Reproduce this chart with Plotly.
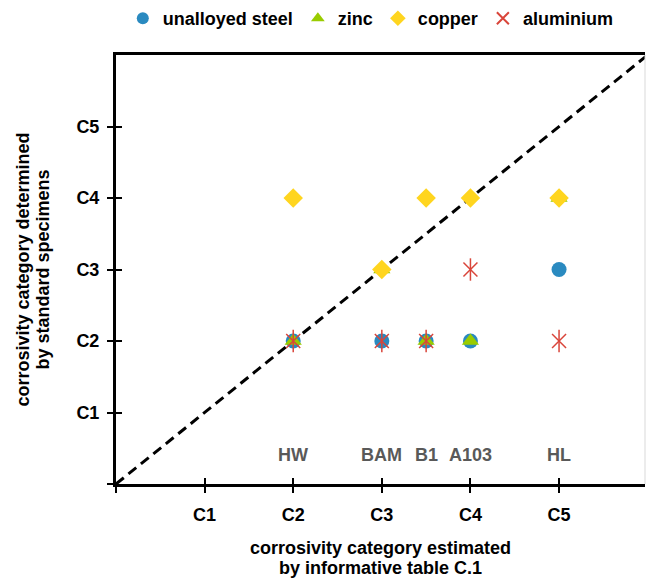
import plotly.graph_objects as go

sites = ["HW", "BAM", "B1", "A103", "HL"]
site_x = [2, 3, 3.5, 4, 5]  # estimated category position
cat_labels = ["", "C1", "C2", "C3", "C4", "C5"]
cat_vals = [0, 1, 2, 3, 4, 5]

steel = [2, 2, 2, 2, 3]
zinc = [2, 3, 2, 2, 4]
copper = [4, 3, 4, 4, 4]
aluminium = [2, 2, 2, 3, 2]

diag = [0, 6]

FONT = "Liberation Sans, Arial, sans-serif"
FS = 18
fig = go.Figure()

fig.add_trace(go.Scatter(x=diag, y=diag, mode="lines", showlegend=False,
                         line=dict(color="black", width=3, dash="10px,6px"), hoverinfo="skip"))
fig.add_trace(go.Scatter(x=site_x, y=steel, mode="markers", name="<b>unalloyed steel</b>",
                         marker=dict(symbol="circle", size=15, color="#2A8AC0")))
fig.add_trace(go.Scatter(x=site_x, y=zinc, mode="markers", name="<b>zinc</b>",
                         marker=dict(symbol="triangle-up", size=15, color="#99CC00")))
fig.add_trace(go.Scatter(x=site_x, y=copper, mode="markers", name="<b>copper</b>",
                         marker=dict(symbol="diamond", size=15, color="#FFD51F")))
fig.add_trace(go.Scatter(x=site_x, y=aluminium, mode="markers", name="<b>aluminium</b>", legendgroup="al",
                         marker=dict(symbol="x-thin-open", size=14, color="#D9453A",
                                     line=dict(width=1.5, color="#D9453A"))))
fig.add_trace(go.Scatter(x=site_x, y=aluminium, mode="markers", name="aluminium", legendgroup="al",
                         showlegend=False,
                         marker=dict(symbol="line-ns-open", size=16, color="#D9453A",
                                     line=dict(width=1.5, color="#D9453A"))))
# invisible trace on overlay axes (for the inner tick marks)
fig.add_trace(go.Scatter(x=[0], y=[0], xaxis="x2", yaxis="y2", mode="markers", showlegend=False,
                         marker=dict(opacity=0), hoverinfo="skip"))

for sx, s in zip(site_x, sites):
    fig.add_annotation(x=sx, y=0.4, text="<b>%s</b>" % s, showarrow=False,
                       font=dict(family=FONT, size=FS, color="#595959"))

x_title = ["corrosivity category estimated", "by informative table C.1"]
y_title = ["corrosivity category determined", "by standard specimens"]
for i, t in enumerate(x_title):
    fig.add_annotation(xref="paper", yref="paper", x=0.5, y=0, yanchor="middle",
                       yshift=-64 - 20 * i, text="<b>%s</b>" % t, showarrow=False,
                       font=dict(family=FONT, size=FS, color="black"))
for i, t in enumerate(y_title):
    fig.add_annotation(xref="paper", yref="paper", x=0, y=0.5, xanchor="center",
                       xshift=-94 + 20 * i, textangle=-90, text="<b>%s</b>" % t,
                       showarrow=False, font=dict(family=FONT, size=FS, color="black"))

fig.add_shape(type="line", xref="paper", yref="paper", x0=1, x1=1, y0=0, y1=1,
              line=dict(color="#D9D9D9", width=1))

axis_common = dict(showgrid=False, zeroline=False)
bold_ticks = ["<b>%s</b>" % t for t in cat_labels]
fig.update_layout(
    width=646, height=578,
    margin=dict(l=116, r=1, t=55, b=94, autoexpand=False),
    paper_bgcolor="white", plot_bgcolor="white",
    font=dict(family=FONT, size=FS, color="black"),
    xaxis=dict(range=[0, 5.97], tickvals=cat_vals, ticktext=bold_ticks,
               ticks="outside", ticklen=6, tickwidth=2, tickcolor="black",
               showline=True, linewidth=3, linecolor="black", mirror=True,
               ticklabelstandoff=6, tickfont=dict(size=FS), **axis_common),
    yaxis=dict(range=[0, 6], tickvals=cat_vals, ticktext=bold_ticks,
               ticks="outside", ticklen=6, tickwidth=2, tickcolor="black",
               showline=True, linewidth=3, linecolor="black",
               ticklabelstandoff=4, tickfont=dict(size=FS), **axis_common),
    xaxis2=dict(range=[0, 5.97], overlaying="x", anchor="y2", side="bottom",
                tickvals=cat_vals, showticklabels=False,
                ticks="inside", ticklen=6, tickwidth=2, tickcolor="black",
                showline=False, **axis_common),
    yaxis2=dict(range=[0, 6], overlaying="y", anchor="x2", side="left",
                tickvals=cat_vals, showticklabels=False,
                ticks="inside", ticklen=6, tickwidth=2, tickcolor="black",
                showline=False, **axis_common),
    legend=dict(orientation="h", x=0.574, xanchor="center", xref="container",
                y=1.0, yanchor="top", yref="container", itemsizing="constant",
                font=dict(family=FONT, size=FS), itemwidth=30, tracegroupgap=0),
    showlegend=True,
)

fig.write_html("out.html")
